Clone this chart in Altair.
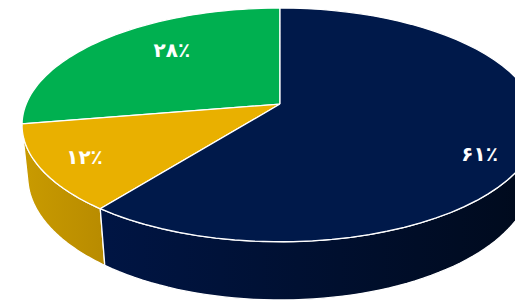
import math
import altair as alt
import pandas as pd

# ---- data ----
categories = ["سبز", "زرد", "سرمه‌ای"]
values = [28, 12, 61]
colors = ["#00b050", "#e9b000", "#00194a"]
wall_gradients = [["#009a46", "#006b30"], ["#c99b00", "#b88b00"], ["#001544", "#000a1c"]]
label_nudges = [(21, -5), (-28, 9), (19, 24)]

persian = str.maketrans("0123456789", "۰۱۲۳۴۵۶۷۸۹")
labels = [str(v).translate(persian) + "٪" for v in values]

# ---- 3D view (style) ----
CX, CY, F, D = 280, 103, 1264.4, 4.981
SA, CA = 0.4595, 0.8881
H = 0.2386
AMIN = math.acos(-1 / (D * CA))
AMAX = 2 * math.pi - AMIN
LR = 0.72

depth = f"({D} - (datum.Y*{SA} + datum.Z*{CA}))"
screen = dict(
    sx=f"{CX} + {F}*datum.X/{depth}",
    sy=f"{CY} - {F}*(datum.Y*{CA} - datum.Z*{SA})/{depth}",
)

df = pd.DataFrame({"category": categories, "value": values,
                   "order": list(range(len(values))), "label": labels})

xs = alt.Scale(domain=[8, 515], nice=False, zero=False)
ys = alt.Scale(domain=[4, 305], reverse=True, nice=False, zero=False)
X = alt.X("sx:Q", scale=xs, axis=None)
Y = alt.Y("sy:Q", scale=ys, axis=None)

base = (
    alt.Chart(df)
    .transform_joinaggregate(total="sum(value)")
    .transform_window(cum="sum(value)", sort=[alt.SortField("order")], frame=[None, 0])
    .transform_calculate(a0="2*PI*(datum.cum - datum.value)/datum.total",
                         a1="2*PI*datum.cum/datum.total")
)

walls = []
texts = []
for i, cat in enumerate(categories):
    g0, g1 = wall_gradients[i]
    w = (
        base.transform_filter(alt.datum.category == cat)
        .transform_calculate(lo=f"max(datum.a0, {AMIN})", hi=f"min(datum.a1, {AMAX})")
        .transform_filter("datum.lo < datum.hi")
        .transform_calculate(k="sequence(0, 123)")
        .transform_flatten(["k"])
        .transform_calculate(
            t="datum.k <= 60 ? datum.lo + (datum.hi-datum.lo)*datum.k/60 : "
              "(datum.k <= 121 ? datum.hi - (datum.hi-datum.lo)*(datum.k-61)/60 : datum.lo)",
        )
        .transform_calculate(
            X="-sin(datum.t)", Z="-cos(datum.t)",
            Y=f"(datum.k >= 61 && datum.k <= 121) ? {-H} : 0",
        )
        .transform_calculate(**screen)
        .mark_line(filled=True, clip=True, stroke="white", strokeWidth=1.3,
                   fill={"gradient": "linear", "x1": 0, "x2": 1, "y1": 0, "y2": 0,
                         "stops": [{"offset": 0, "color": g0}, {"offset": 1, "color": g1}]})
        .encode(x=X, y=Y, order="k:Q")
    )
    walls.append(w)

    dx, dy = label_nudges[i]
    t = (
        base.transform_filter(alt.datum.category == cat)
        .transform_calculate(t="(datum.a0 + datum.a1)/2")
        .transform_calculate(X=f"-{LR}*sin(datum.t)", Z=f"-{LR}*cos(datum.t)", Y="0")
        .transform_calculate(**screen)
        .mark_text(dx=dx, dy=dy, font="DejaVu Sans", fontSize=20, fontWeight="bold",
                   color="white", align="center", baseline="middle")
        .encode(x=X, y=Y, text="label:N")
    )
    texts.append(t)

top = (
    base.transform_calculate(k="sequence(-1, 62)")
    .transform_flatten(["k"])
    .transform_calculate(r="(datum.k < 0 || datum.k > 60) ? 0 : 1",
                         t="datum.a0 + (datum.a1 - datum.a0) * clamp(datum.k, 0, 60) / 60")
    .transform_calculate(X="-datum.r*sin(datum.t)", Z="-datum.r*cos(datum.t)", Y="0")
    .transform_calculate(**screen)
    .mark_line(filled=True, clip=True, stroke="white", strokeWidth=1.3)
    .encode(x=X, y=Y, order="k:Q", detail="category:N",
            color=alt.Color("category:N", scale=alt.Scale(domain=categories, range=colors),
                            legend=None))
)

chart = (
    alt.layer(*walls, top, *texts)
    .properties(width=507, height=292, padding=0,
                autosize=alt.AutoSizeParams(type="none"), background="white")
    .configure_view(stroke=None)
)

chart.save("out.html", embed_options={"renderer": "svg", "actions": False})
